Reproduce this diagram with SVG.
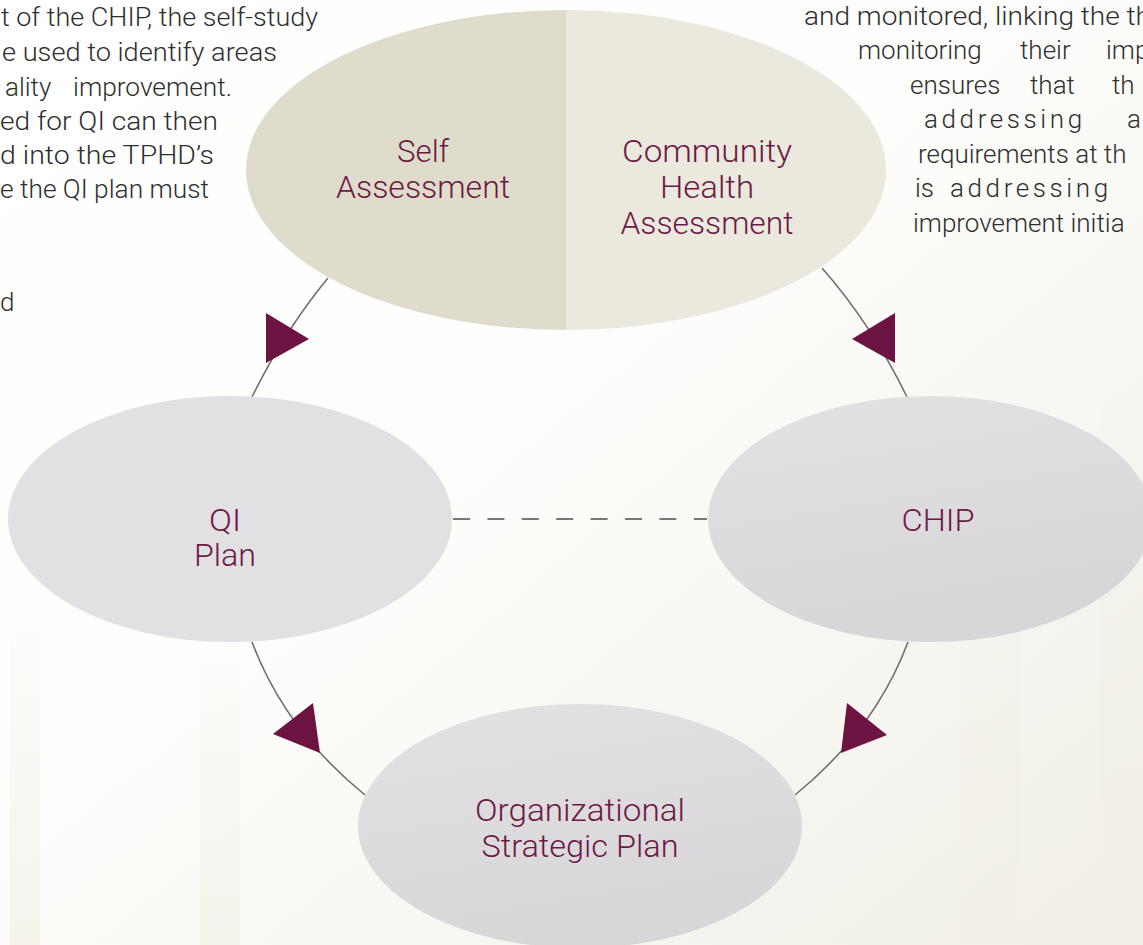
<svg xmlns="http://www.w3.org/2000/svg" width="1143" height="945" viewBox="0 0 1143 945">
<style>
.body{font-family:Roboto,"Liberation Sans",sans-serif;font-weight:300;font-size:26px;fill:#2e2e2e}
.lbl{font-family:Roboto,"Liberation Sans",sans-serif;font-weight:300;font-size:31px;fill:#6c1a45;text-anchor:middle}
.conn{fill:none;stroke:#6f6f6f;stroke-width:1.6}
.dash{fill:none;stroke:#777;stroke-width:2;stroke-dasharray:17 17.4}
.head{fill:#6d1342}
.stripe{fill:url(#stripe)}
</style>
<defs>
<linearGradient id="bg" x1="0" y1="0" x2="1" y2="1">
<stop offset="0" stop-color="#ffffff"/>
<stop offset="0.45" stop-color="#fdfdfb"/>
<stop offset="1" stop-color="#f0eee5"/>
</linearGradient>
<linearGradient id="stripe" x1="0" y1="0" x2="0" y2="1">
<stop offset="0" stop-color="#f1efe6" stop-opacity="0"/>
<stop offset="1" stop-color="#f1efe6" stop-opacity="0.7"/>
</linearGradient>
<linearGradient id="gray" x1="0" y1="0" x2="0.3" y2="1">
<stop offset="0" stop-color="#e4e1e5"/>
<stop offset="1" stop-color="#d9d6d9"/>
</linearGradient>
</defs>
<rect x="0" y="0" width="1143" height="945" fill="url(#bg)"/>
<rect class="stripe" x="10" y="600" width="30" height="345"/>
<rect class="stripe" x="200" y="650" width="40" height="295"/>
<rect class="stripe" x="960" y="500" width="60" height="445"/>
<rect class="stripe" x="1100" y="300" width="43" height="645"/>

<g id="body-text-left">
<text class="body" x="1" y="26" textLength="317" lengthAdjust="spacingAndGlyphs">t of the CHIP, the self-study</text>
<text class="body" x="2" y="61" textLength="275" lengthAdjust="spacingAndGlyphs">e used to identify areas</text>
<text class="body" x="5" y="96">ality</text>
<text class="body" x="73" y="96" textLength="159" lengthAdjust="spacingAndGlyphs">improvement.</text>
<text class="body" x="0" y="130" textLength="218" lengthAdjust="spacingAndGlyphs">ed for QI can then</text>
<text class="body" x="0" y="164" textLength="214" lengthAdjust="spacingAndGlyphs">d into the TPHD’s</text>
<text class="body" x="0" y="198" textLength="209" lengthAdjust="spacingAndGlyphs">e the QI plan must</text>
<text class="body" x="0" y="311">d</text>
</g>

<g id="body-text-right">
<text class="body" x="804" y="25" textLength="347" lengthAdjust="spacingAndGlyphs">and monitored, linking the th</text>
<text class="body" x="858" y="59">monitoring</text>
<text class="body" x="1020" y="59">their</text>
<text class="body" x="1106" y="59">imp</text>
<text class="body" x="910" y="94">ensures</text>
<text class="body" x="1030" y="94">that</text>
<text class="body" x="1112" y="94">th</text>
<text class="body" x="924" y="128" letter-spacing="3.6">addressing</text>
<text class="body" x="1127" y="128">a</text>
<text class="body" x="918" y="163">requirements at th</text>
<text class="body" x="915" y="197">is</text>
<text class="body" x="950" y="197" letter-spacing="3.6">addressing</text>
<text class="body" x="913" y="232">improvement initia</text>
</g>

<g id="connectors">
<path class="conn" d="M328,278 Q285,330 252,397"/>
<path class="conn" d="M822,268 Q872,325 907,397"/>
<path class="conn" d="M252,642 Q285,730 365,795"/>
<path class="conn" d="M908,642 Q875,730 795,795"/>
<line class="dash" x1="453" y1="519" x2="707" y2="519"/>
<polygon class="head" points="266,313 309,339 266,363"/>
<polygon class="head" points="895,313 852,339 895,363"/>
<polygon class="head" points="313,703 273,734 320,753"/>
<polygon class="head" points="847,703 887,735 841,753"/>
</g>

<g id="node-self-assessment">
<path d="M566,10 A320,160 0 0 0 566,330 Z" fill="#e0dccb"/>
<text class="lbl" x="423" y="162" textLength="52" lengthAdjust="spacingAndGlyphs">Self</text>
<text class="lbl" x="423" y="198" textLength="174" lengthAdjust="spacingAndGlyphs">Assessment</text>
</g>

<g id="node-community-health-assessment">
<path d="M566,10 A320,160 0 0 1 566,330 Z" fill="#ebe8dd"/>
<text class="lbl" x="707" y="162" textLength="170" lengthAdjust="spacingAndGlyphs">Community</text>
<text class="lbl" x="707" y="198" textLength="94" lengthAdjust="spacingAndGlyphs">Health</text>
<text class="lbl" x="707" y="234" textLength="173" lengthAdjust="spacingAndGlyphs">Assessment</text>
</g>

<g id="node-qi-plan">
<ellipse cx="230" cy="519" rx="222" ry="123" fill="#e3e0e4"/>
<text class="lbl" x="225" y="531" textLength="32" lengthAdjust="spacingAndGlyphs">QI</text>
<text class="lbl" x="225" y="566" textLength="62" lengthAdjust="spacingAndGlyphs">Plan</text>
</g>

<g id="node-chip">
<ellipse cx="930" cy="519" rx="222" ry="123" fill="url(#gray)"/>
<text class="lbl" x="938" y="531" textLength="73" lengthAdjust="spacingAndGlyphs">CHIP</text>
</g>

<g id="node-organizational-strategic-plan">
<ellipse cx="580" cy="826" rx="222" ry="122" fill="url(#gray)"/>
<text class="lbl" x="580" y="821" textLength="210" lengthAdjust="spacingAndGlyphs">Organizational</text>
<text class="lbl" x="580" y="857" textLength="197" lengthAdjust="spacingAndGlyphs">Strategic Plan</text>
</g>
</svg>
